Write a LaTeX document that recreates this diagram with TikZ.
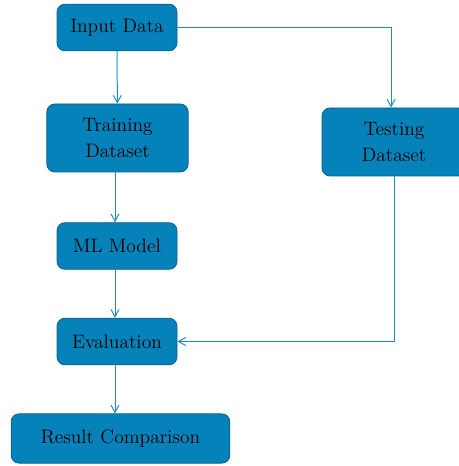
\documentclass[tikz,border=0pt]{standalone}
\usepackage{tikz}
\usetikzlibrary{arrows, arrows.meta, positioning}

\definecolor{boxfill}{RGB}{5,130,185}
\definecolor{boxline}{RGB}{10,95,140}
\definecolor{arrowline}{RGB}{30,140,195}

\tikzset{
  stage/.style = {draw = boxline, fill = boxfill, rounded corners = 6pt, line width = 0.6pt,
                  align = center, font = \fontsize{14.6}{19}\selectfont, inner sep = 0pt},
  flow/.style = {-{Straight Barb[length = 5.5pt, width = 6pt]}, color = arrowline, line width = 0.75pt}
}

\begin{document}
\begin{tikzpicture}[x = 0.75pt, y = -0.75pt]
\useasboundingbox (0,0) rectangle (458,466);
\node[stage, minimum width = 90pt, minimum height = 35pt] (input) at (117,27.5) {Input Data};
\node[stage, minimum width = 106pt, minimum height = 51pt] (train) at (117.5,138) {Training\\Dataset};
\node[stage, minimum width = 108pt, minimum height = 51pt] (test) at (394,142) {Testing\\Dataset};
\node[stage, minimum width = 90pt, minimum height = 35pt] (model) at (117,246) {ML Model};
\node[stage, minimum width = 90pt, minimum height = 35pt] (eval) at (117,341.5) {Evaluation};
\node[stage, minimum width = 164pt, minimum height = 37pt] (result) at (120.5,438.5) {Result Comparison};

\draw[flow] (input) -- (train);
\draw[flow] (train.south -| 115,0) -- (model.north -| 115,0);
\draw[flow] (model.south -| 115,0) -- (eval.north -| 115,0);
\draw[flow] (eval.south -| 115,0) -- (result.north -| 115,0);
\draw[flow] (input.east) -| (test.north -| 391,0);
\draw[flow] (test.south) |- (eval.east);
\end{tikzpicture}
\end{document}
